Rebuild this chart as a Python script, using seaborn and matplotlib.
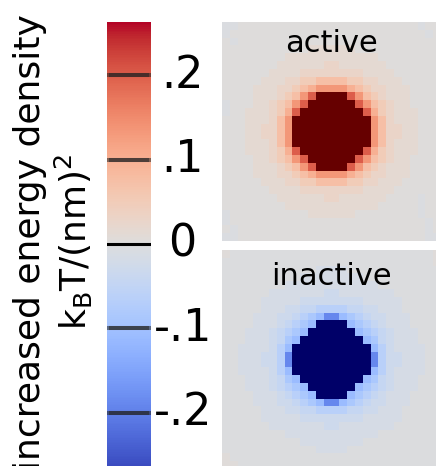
import matplotlib
matplotlib.use("Agg")
import matplotlib.pyplot as plt
import numpy as np
import pandas as pd
import seaborn as sns
from matplotlib.colors import Normalize
from matplotlib.cm import ScalarMappable
from matplotlib.transforms import blended_transform_factory

# energy-density levels (kT/nm^2) coded by one character per cell
active_levels = {"-": -0.006, "0": 0.004, "1": 0.015, "2": 0.03, "3": 0.05,
                 "4": 0.075, "5": 0.10, "6": 0.135, "7": 0.20, "X": 0.40}
inactive_levels = {"+": 0.006, "0": -0.004, "1": -0.015, "2": -0.03, "3": -0.045,
                   "4": -0.065, "5": -0.085, "6": -0.11, "7": -0.15, "8": -0.19,
                   "X": -0.40}

active_rows = [
    "--00000000000000000000000-00",
    "-0000000000000000000000000-0",
    "0-00000000000000000000000000",
    "0000000000011111100000000000",
    "0000000011111111111100000000",
    "0000000111111221111110000000",
    "0000001111222222221111000000",
    "0000011122334444332211100000",
    "0000111223456666543221110000",
    "000011123467XXXX764321110000",
    "-0001123467XXXXXX76432110000",
    "-001112357XXXXXXXX7532111000",
    "000111246XXXXXXXXXX642111000",
    "000112246XXXXXXXXXX642211000",
    "000112246XXXXXXXXXX642211000",
    "000111246XXXXXXXXXX642111000",
    "0001112357XXXXXXXX7532111000",
    "00001123467XXXXXX76432110000",
    "000011123467XXXX764321110000",
    "0000111223456666543221110000",
    "0000011122334444332211100000",
    "0000001111222222221111000000",
    "0000000111111221111110000-00",
    "0000000011111111111100000-00",
    "-000000000011111100000000-00",
    "-0000000000000000000000000-0",
    "0-000000000000000000000000-0",
    "--000000000000000000000000--",
]

inactive_rows = [
    "+00000000000000000000000000+",
    "000000000000000000000000000+",
    "0000000000001111000000000000",
    "0000000000111111110000000000",
    "0000000011111111111100000000",
    "0000001111111221111111000000",
    "0000011111222222221111100000",
    "0000011122334444332211100000",
    "0000111223456886543221110000",
    "000011123456XXXX654321110000",
    "00011123456XXXXXX65432111000",
    "0001112356XXXXXXXX6532111000",
    "001111246XXXXXXXXXX642111100",
    "001112248XXXXXXXXXX842211100",
    "001112248XXXXXXXXXX842211100",
    "001111246XXXXXXXXXX642111100",
    "0001112356XXXXXXXX6532111000",
    "00011123456XXXXXX65432111000",
    "000011123456XXXX654321110000",
    "0000111223456886543221110000",
    "0000011122334444332211100000",
    "0000011111222222221111100000",
    "0000001111111221111111000000",
    "0000000011111111111100000000",
    "0000000000111111110000000000",
    "0000000000001111000000000000",
    "+000000000000000000000000000",
    "++00000000000000000000000000",
]

panel_titles = ["active", "inactive"]
cbar_ticks = [0.2, 0.1, 0.0, -0.1, -0.2]
cbar_labels = [".2", ".1", "0", "-.1", "-.2"]
vlim = 0.263


def decode(rows, levels):
    return pd.DataFrame([[levels[ch] for ch in row] for row in rows])


cmap = sns.color_palette("coolwarm", as_cmap=True).copy()
cmap.set_over("#660000")
cmap.set_under("#000068")
norm = Normalize(vmin=-vlim, vmax=vlim)

fig = plt.figure(figsize=(4.36, 4.66), dpi=100)

# cell maps
ax_top = fig.add_axes([222 / 436, 1 - 241 / 466, 219 / 436, 219 / 466])
ax_bot = fig.add_axes([222 / 436, 1 - 469 / 466, 219 / 436, 219 / 466])
title_y = [1 - 30 / 219, 1 - 35 / 219]
for ax, rows, levels, title, ty in zip(
        [ax_top, ax_bot], [active_rows, inactive_rows],
        [active_levels, inactive_levels], panel_titles, title_y):
    sns.heatmap(decode(rows, levels), ax=ax, cmap=cmap, vmin=-vlim, vmax=vlim,
                cbar=False, xticklabels=False, yticklabels=False)
    ax.tick_params(left=False, bottom=False)
    ax.text(0.5, ty, title, transform=ax.transAxes, ha="center",
            va="baseline", fontsize=22, color="black")

# colour bar
cax = fig.add_axes([107 / 436, 0.0, 44 / 436, 1 - 22 / 466])
cb = fig.colorbar(ScalarMappable(norm=norm, cmap=cmap), cax=cax)
cb.outline.set_visible(False)
cax.set_yticks([])
trans = blended_transform_factory(cax.transAxes, cax.transData)
for v, lab in zip(cbar_ticks, cbar_labels):
    if v == 0:
        cax.axhline(v, color="black", lw=2.2)
    else:
        cax.axhline(v, xmin=0.0, xmax=0.91, color="#222222", alpha=0.55, lw=2.9)
        cax.axhline(v, xmin=0.09, xmax=1.0, color="#222222", alpha=0.55, lw=2.9)
    cax.text(1.72, v, lab, transform=trans, ha="center", va="center",
             fontsize=32, color="black")

fig.text(54 / 436, 1 - 242 / 466,
         "increased energy density\nk$_\\mathrm{B}$T/(nm)$^2$",
         rotation=90, ha="center", va="center", ma="center",
         fontsize=26, linespacing=1.15)

fig.savefig("out.png", dpi=100)
